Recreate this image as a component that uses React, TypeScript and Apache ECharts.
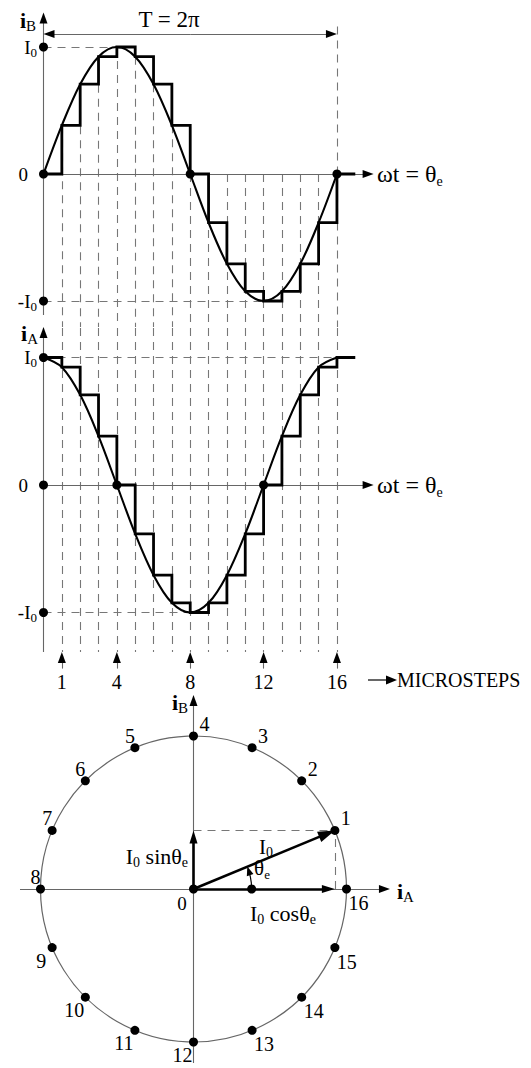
import React, { useEffect, useRef } from "react";
import * as echarts from "echarts";

// One electrical period split into 16 microsteps
const microsteps = [0, 1, 2, 3, 4, 5, 6, 7, 8, 9, 10, 11, 12, 13, 14, 15, 16];
// Phase B current at each microstep, in units of I0
const phaseBCurrent = [0, 0.383, 0.707, 0.924, 1, 0.924, 0.707, 0.383, 0, -0.383, -0.707, -0.924, -1, -0.924, -0.707, -0.383, 0];
// Phase A current at each microstep, in units of I0
const phaseACurrent = [1, 0.924, 0.707, 0.383, 0, -0.383, -0.707, -0.924, -1, -0.924, -0.707, -0.383, 0, 0.383, 0.707, 0.924, 1];
// The last level is held for one more microstep after the period ends
const heldMicrostep = 17;
// Microsteps marked with arrows below the waveforms
const markedMicrosteps = [1, 4, 8, 12, 16];
// Current levels marked on the waveform axes
const levelValues = [1, 0, -1];
const levelLabels = ["{m|I}{s|0}", "{m|0}", "{m|-I}{s|0}"];

const SERIF = "Liberation Serif";
const INK = "#000";
const AXIS_GRAY = "#666";
const GUIDE_GRAY = "#777";

// Pixel geometry of the three panels
const STEP_PX = 18.34;
const WAVE_LEFT = 43.5;
const WAVE_X_MAX = 18.2;
const B = { zero: 174, scale: 127, max: 1.37, min: -1.205 };
const A = { zero: 485, scale: 127.5, max: 1.232, min: -1.6 };
const C = { cx: 193.5, cy: 889, r: 153, xMin: -1.2, xMax: 1.4, yMin: -1.2, yMax: 1.3 };
const PERIOD_LEVEL = 1.102;
const MICRO_TIP = -1.31;
const MICRO_TAIL = -1.44;
const ARC_R = 0.38;
const levelLabelGap = [2, 11, 2];

type P = [number, number];

function richStyles(size: number, sub: number, key: "fill" | "color") {
  const tok = (fs: number, bold = false) => ({
    fontFamily: SERIF,
    fontSize: fs,
    fontWeight: bold ? "bold" : "normal",
    font: `${bold ? "bold " : ""}${fs}px ${SERIF}`,
    [key]: INK,
  });
  return {
    m: { ...tok(size), lineHeight: size + 4 },
    b: { ...tok(size, true), lineHeight: size + 4 },
    s: { ...tok(sub), lineHeight: sub, verticalAlign: "bottom" },
  };
}

function text(x: number, y: number, t: string, align: string, size = 20, sub = 13) {
  const isRich = t.indexOf("{") >= 0;
  return {
    type: "text",
    x,
    y,
    z: 50,
    silent: true,
    style: {
      text: t,
      align,
      verticalAlign: "middle",
      fill: INK,
      fontFamily: SERIF,
      fontSize: size,
      font: `${size}px ${SERIF}`,
      ...(isRich ? { rich: richStyles(size, sub, "fill") } : {}),
    },
  };
}

// Arrow from `from` to `tip` in data units; the head is a triangle whose point lands on `tip`
function arrow(from: P, tip: P, sx: number, sy: number, len = 11, wid = 8) {
  const d = Math.hypot((tip[0] - from[0]) * sx, (tip[1] - from[1]) * sy);
  const ux = (tip[0] - from[0]) / d;
  const uy = (tip[1] - from[1]) / d;
  const base: P = [tip[0] - (ux * len) / 2, tip[1] - (uy * len) / 2];
  const pre: P = [base[0] - ux, base[1] - uy];
  return {
    base,
    shaft: [{ coord: from }, { coord: base }],
    head: [{ coord: pre }, { coord: base, symbol: "triangle", symbolSize: [wid, len] }],
    whole: [{ coord: from }, { coord: base, symbol: "triangle", symbolSize: [wid, len] }],
  };
}

function markSeries(idx: number, data: any[], lineStyle: any, z: number) {
  return {
    type: "line",
    xAxisIndex: idx,
    yAxisIndex: idx,
    data: [],
    silent: true,
    z,
    markLine: {
      silent: true,
      animation: false,
      z,
      symbol: ["none", "none"],
      symbolSize: [8, 11],
      label: { show: false },
      emphasis: { disabled: true },
      lineStyle,
      data,
    },
  };
}

function buildOption() {
  const guideStyle = { color: GUIDE_GRAY, width: 1.1, type: [8, 6] };
  const axisStyle = { color: AXIS_GRAY, width: 1.1, type: "solid" };
  const headStyle = { color: INK, width: 1, type: "solid" };
  const dotStyle = { color: INK, opacity: 1 };
  const lastStep = microsteps[microsteps.length - 1];

  // ---- phase B panel
  const bCurve = microsteps.map((k, i) => [k, phaseBCurrent[i]]);
  const bStairs = [...bCurve, [heldMicrostep, phaseBCurrent[phaseBCurrent.length - 1]]];
  const bGuides = [
    ...microsteps.slice(1).map((k, j) => {
      const v = phaseBCurrent[j + 1];
      const top = k === lastStep ? PERIOD_LEVEL + 0.06 : Math.max(v, 0);
      return [{ coord: [k, top] }, { coord: [k, B.min] }];
    }),
    [{ coord: [0, 1] }, { coord: [microsteps[phaseBCurrent.indexOf(1)], 1] }],
    [{ coord: [0, -1] }, { coord: [microsteps[phaseBCurrent.indexOf(-1)], -1] }],
  ];
  const bY = arrow([0, -1.11], [0, 1.272], STEP_PX, B.scale);
  const bX = arrow([0, 0], [18.0, 0], STEP_PX, B.scale);
  const bTR = arrow([8, PERIOD_LEVEL], [lastStep, PERIOD_LEVEL], STEP_PX, B.scale);
  const bTL = arrow([8, PERIOD_LEVEL], [0, PERIOD_LEVEL], STEP_PX, B.scale);

  // ---- phase A panel
  const aCurve = microsteps.map((k, i) => [k, phaseACurrent[i]]);
  const aStairs = [...aCurve, [heldMicrostep, phaseACurrent[phaseACurrent.length - 1]]];
  const aGuides = [
    ...microsteps.slice(1).map((k) => [{ coord: [k, A.max] }, { coord: [k, MICRO_TIP] }]),
    [{ coord: [0, 1] }, { coord: [microsteps[phaseACurrent.lastIndexOf(1)], 1] }],
    [{ coord: [0, -1] }, { coord: [microsteps[phaseACurrent.indexOf(-1)], -1] }],
  ];
  const aY = arrow([0, MICRO_TIP], [0, 1.239], STEP_PX, A.scale);
  const aX = arrow([0, 0], [18.0, 0], STEP_PX, A.scale);
  const microArrows = markedMicrosteps.map((k) => arrow([k, MICRO_TAIL], [k, MICRO_TIP], STEP_PX, A.scale, 11, 8));
  const microShafts = microArrows.map((a, i) => [
    { coord: a.base },
    {
      coord: [markedMicrosteps[i], MICRO_TAIL],
      label: {
        show: true,
        position: "end",
        distance: 3,
        formatter: String(markedMicrosteps[i]),
        fontFamily: SERIF,
        fontSize: 20,
        color: INK,
      },
    },
  ]);

  // ---- phasor circle
  const p1: P = [phaseACurrent[1], phaseBCurrent[1]];
  const cX = arrow([-1.134, 0], [1.284, 0], C.r, C.r);
  const cY = arrow([0, -1.137], [0, 1.268], C.r, C.r);
  const phasor = arrow([0, 0], p1, C.r, C.r, 17, 11);
  const sinArrow = arrow([0, 0], [0, p1[1]], C.r, C.r, 13, 8);
  const cosArrow = arrow([0, 0], [p1[0], 0], C.r, C.r, 13, 8);

  const levelDots = () =>
    levelValues.map((v, i) => ({
      value: [0, v],
      label: {
        show: true,
        position: "left",
        distance: levelLabelGap[i],
        formatter: levelLabels[i],
        fontFamily: SERIF,
        fontSize: 19,
        color: INK,
        rich: richStyles(19, 13, "color"),
      },
    }));

  const circleOffset = (x: number, y: number): P => {
    let ang = (Math.atan2(y, x) * 180) / Math.PI;
    if (ang < 0) ang += 360;
    if (ang > 0.01 && ang <= 90.01) return [11, -12];
    if (ang > 90.01 && ang <= 180.01) return [-5, -12];
    if (ang > 180.01 && ang <= 270.01) return [-11, 13];
    return [12, 14];
  };
  const circleDots = microsteps.slice(1).map((k) => {
    const x = phaseACurrent[k];
    const y = phaseBCurrent[k];
    const o = circleOffset(x, y);
    return {
      value: [x, y],
      label: {
        show: true,
        position: [4.5 + o[0], 4.5 + o[1]],
        align: "center",
        verticalAlign: "middle",
        formatter: String(k),
        fontFamily: SERIF,
        fontSize: 20,
        color: INK,
      },
    };
  });

  const hidden = { show: false };
  const waveWidth = WAVE_X_MAX * STEP_PX;

  return {
    animation: false,
    backgroundColor: "#fff",
    textStyle: { fontFamily: SERIF },
    grid: [
      { left: WAVE_LEFT, width: waveWidth, top: B.zero - B.max * B.scale, height: (B.max - B.min) * B.scale, outerBoundsMode: "none" },
      { left: WAVE_LEFT, width: waveWidth, top: A.zero - A.max * A.scale, height: (A.max - A.min) * A.scale, outerBoundsMode: "none" },
      {
        left: C.cx + C.xMin * C.r,
        width: (C.xMax - C.xMin) * C.r,
        top: C.cy - C.yMax * C.r,
        height: (C.yMax - C.yMin) * C.r,
        outerBoundsMode: "none",
      },
    ],
    xAxis: [
      { gridIndex: 0, type: "value", min: 0, max: WAVE_X_MAX, ...hidden },
      { gridIndex: 1, type: "value", min: 0, max: WAVE_X_MAX, ...hidden },
      { gridIndex: 2, type: "value", min: C.xMin, max: C.xMax, ...hidden },
    ],
    yAxis: [
      { gridIndex: 0, type: "value", min: B.min, max: B.max, ...hidden },
      { gridIndex: 1, type: "value", min: A.min, max: A.max, ...hidden },
      { gridIndex: 2, type: "value", min: C.yMin, max: C.yMax, ...hidden },
    ],
    polar: { center: [C.cx, C.cy], radius: C.r },
    angleAxis: {
      type: "value",
      min: 0,
      max: 360,
      startAngle: 0,
      clockwise: false,
      axisLine: { show: true, lineStyle: { color: AXIS_GRAY, width: 1.2 } },
      axisTick: { show: false },
      axisLabel: { show: false },
      splitLine: { show: false },
      splitArea: { show: false },
    },
    radiusAxis: {
      type: "value",
      min: 0,
      max: 1,
      axisLine: { show: false },
      axisTick: { show: false },
      axisLabel: { show: false },
      splitLine: { show: false },
      splitArea: { show: false },
    },
    series: [
      // phase B waveform
      markSeries(0, bGuides, guideStyle, 1),
      markSeries(0, [bY.shaft, bX.shaft, bTR.shaft, bTL.shaft], axisStyle, 2),
      markSeries(0, [bY.head, bX.head, bTR.head, bTL.head], headStyle, 2),
      {
        type: "line", xAxisIndex: 0, yAxisIndex: 0, data: bCurve, smooth: 0.34, symbol: "none", silent: true, z: 3,
        lineStyle: { color: INK, width: 2.1 },
      },
      {
        type: "line", xAxisIndex: 0, yAxisIndex: 0, data: bStairs, step: "end", symbol: "none", silent: true, z: 4,
        lineStyle: { color: INK, width: 2.8, join: "miter" },
      },
      {
        type: "scatter", xAxisIndex: 0, yAxisIndex: 0, symbolSize: 9, silent: true, z: 6, itemStyle: dotStyle,
        data: [
          ...levelDots(),
          ...microsteps.filter((k, i) => k > 0 && phaseBCurrent[i] === 0).map((k) => [k, 0]),
        ],
      },
      // phase A waveform
      markSeries(1, aGuides, guideStyle, 1),
      markSeries(1, [aY.shaft, aX.shaft, ...microShafts], axisStyle, 2),
      markSeries(1, [aY.head, aX.head, ...microArrows.map((a) => a.head)], headStyle, 2),
      {
        type: "line", xAxisIndex: 1, yAxisIndex: 1, data: aCurve, smooth: 0.34, symbol: "none", silent: true, z: 3,
        lineStyle: { color: INK, width: 2.1 },
      },
      {
        type: "line", xAxisIndex: 1, yAxisIndex: 1, data: aStairs, step: "end", symbol: "none", silent: true, z: 4,
        lineStyle: { color: INK, width: 2.8, join: "miter" },
      },
      {
        type: "scatter", xAxisIndex: 1, yAxisIndex: 1, symbolSize: 9, silent: true, z: 6, itemStyle: dotStyle,
        data: [
          ...levelDots(),
          ...microsteps.filter((k, i) => k > 0 && phaseACurrent[i] === 0).map((k) => [k, 0]),
        ],
      },
      // phasor diagram
      markSeries(
        2,
        [
          [{ coord: [0, p1[1]] }, { coord: p1 }],
          [{ coord: [p1[0], 0] }, { coord: p1 }],
        ],
        guideStyle,
        1
      ),
      markSeries(2, [cX.shaft, cY.shaft], axisStyle, 2),
      markSeries(2, [cX.head, cY.head], headStyle, 2),
      markSeries(2, [phasor.whole, sinArrow.whole, cosArrow.whole], { color: INK, width: 2.6, type: "solid" }, 4),
      {
        type: "line", coordinateSystem: "polar", polarIndex: 0, silent: true, z: 5, symbol: "none",
        data: [[ARC_R, 0], [ARC_R, 6], [ARC_R, 12], [ARC_R, 17]],
        lineStyle: { color: INK, width: 1.2 },
      },
      {
        type: "scatter", coordinateSystem: "polar", polarIndex: 0, silent: true, z: 5,
        data: [[ARC_R, 18.2]], symbol: "triangle", symbolSize: [7, 9], symbolRotate: 18.2, itemStyle: dotStyle,
      },
      {
        type: "scatter", xAxisIndex: 2, yAxisIndex: 2, symbolSize: 9, silent: true, z: 6, itemStyle: dotStyle,
        data: [...circleDots, [0, 0], [ARC_R, 0]],
      },
    ],
    graphic: [
      text(36, 20, "{b|i}{s|B}", "right", 22, 15),
      text(169, 19.5, "T = 2π", "center", 23),
      text(377, 174, "{m|ωt = θ}{s|e}", "left", 24, 14),
      text(38, 333, "{b|i}{s|A}", "right", 22, 15),
      text(377, 485, "{m|ωt = θ}{s|e}", "left", 24, 14),
      { type: "line", shape: { x1: 368, y1: 680, x2: 388, y2: 680 }, style: { stroke: INK, lineWidth: 1.2 }, silent: true },
      { type: "polygon", shape: { points: [[386, 675.5], [397, 680], [386, 684.5]] }, style: { fill: INK }, silent: true },
      text(397, 680, "MICROSTEPS", "left", 20),
      text(188, 702, "{b|i}{s|B}", "right", 22, 15),
      text(397, 891, "{b|i}{s|A}", "left", 22, 15),
      text(188, 856, "{m|I}{s|0}{m| sinθ}{s|e}", "right", 22, 14),
      text(266, 847, "{m|I}{s|0}", "center", 21, 14),
      text(262, 868, "{m|θ}{s|e}", "center", 21, 13),
      text(250, 913, "{m|I}{s|0}{m| cosθ}{s|e}", "left", 22, 14),
      text(182, 903, "0", "center", 19),
    ],
  };
}

export default function App() {
  const ref = useRef<HTMLDivElement>(null);
  useEffect(() => {
    if (!ref.current) return;
    const chart = echarts.init(ref.current, null, { renderer: "svg", width: 531, height: 1068 });
    chart.setOption(buildOption() as any);
    return () => chart.dispose();
  }, []);
  return (
    <div
      ref={ref}
      style={{ position: "absolute", left: 0, top: 0, width: 531, height: 1068, background: "#fff" }}
    />
  );
}
